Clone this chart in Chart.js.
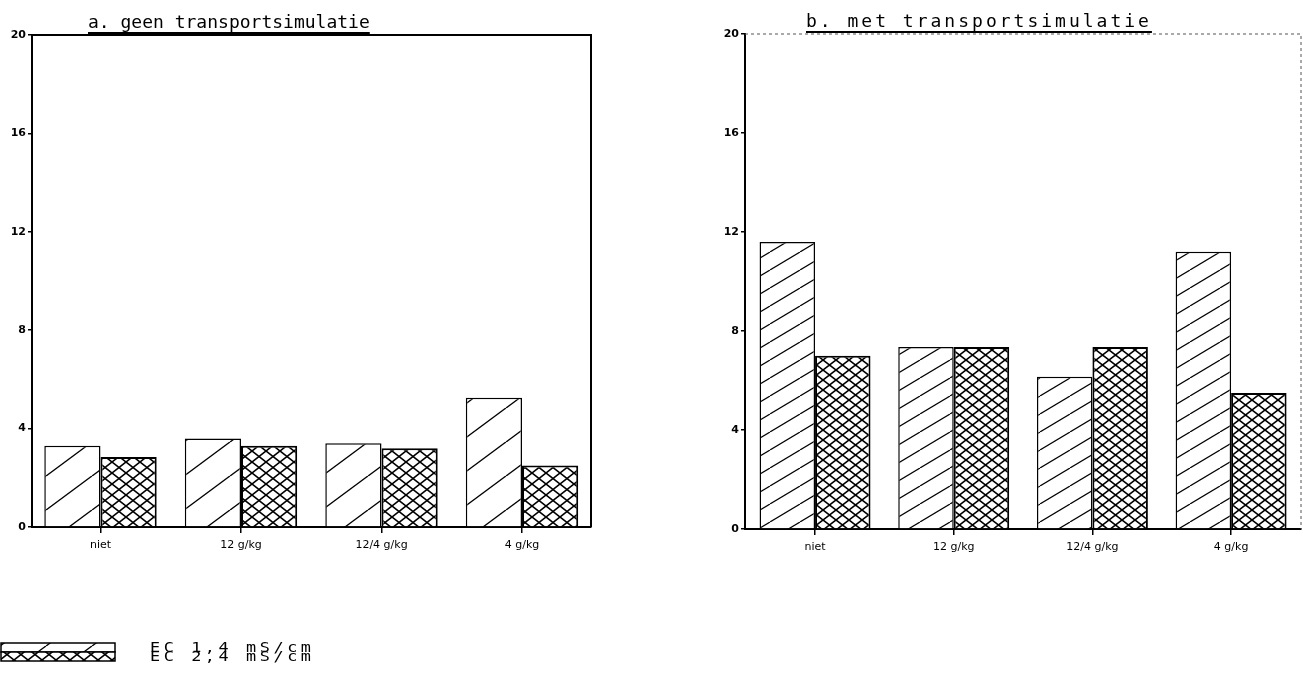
<!DOCTYPE html>
<html>
<head>
<meta charset="utf-8">
<script src="https://cdn.jsdelivr.net/npm/chart.js@4.4.1/dist/chart.umd.min.js"></script>
<style>
  html, body { margin: 0; padding: 0; background: #fff; }
  body { width: 1303px; height: 697px; position: relative; overflow: hidden; }
  .box { position: absolute; top: 0; height: 697px; }
  #boxA { left: 0; width: 650px; }
  #boxB { left: 680px; width: 623px; }
</style>
</head>
<body>
<div class="box" id="boxA"><canvas id="chartA"></canvas></div>
<div class="box" id="boxB"><canvas id="chartB"></canvas></div>
<script>
// categorieen en reeksen
const categories = ['niet', '12 g/kg', '12/4 g/kg', '4 g/kg'];
const seriesNames = ['EC 1,4 mS/cm', 'EC 2,4 mS/cm'];
const yTicks = [0, 4, 8, 12, 16, 20];
const titleA = 'a. geen transportsimulatie';
const titleB = 'b. met transportsimulatie';

// a. geen transportsimulatie
const ec14A = [3.3, 3.6, 3.4, 5.25];
const ec24A = [2.85, 3.3, 3.2, 2.5];
// b. met transportsimulatie
const ec14B = [11.6, 7.35, 6.15, 11.2];
const ec24B = [7.0, 7.35, 7.35, 5.5];

// arcering: schuine lijnen
function hatch(w, h, lw) {
  const c = document.createElement('canvas');
  c.width = w; c.height = h;
  const g = c.getContext('2d');
  g.fillStyle = '#fff';
  g.fillRect(0, 0, w, h);
  g.strokeStyle = '#000';
  g.lineWidth = lw;
  for (const k of [-1, 0, 1]) {
    g.beginPath();
    g.moveTo(k * w, h);
    g.lineTo(k * w + w, 0);
    g.stroke();
  }
  return g.createPattern(c, 'repeat');
}

// arcering: kruislings
function cross(w, h, lw) {
  const c = document.createElement('canvas');
  c.width = w; c.height = h;
  const g = c.getContext('2d');
  g.fillStyle = '#fff';
  g.fillRect(0, 0, w, h);
  g.strokeStyle = '#000';
  g.lineWidth = lw;
  for (const k of [-1, 0, 1]) {
    g.beginPath();
    g.moveTo(k * w, h); g.lineTo(k * w + w, 0);
    g.moveTo(k * w, 0); g.lineTo(k * w + w, h);
    g.stroke();
  }
  return g.createPattern(c, 'repeat');
}

// kader boven/rechts + onderstreepte titel
const framePlugin = {
  id: 'frame',
  afterDraw(chart, args, opts) {
    const { ctx, chartArea: a } = chart;
    ctx.save();
    ctx.strokeStyle = opts.color;
    ctx.lineWidth = opts.lineWidth;
    ctx.setLineDash(opts.dash);
    ctx.beginPath();
    ctx.moveTo(a.left, a.top);
    ctx.lineTo(a.right, a.top);
    ctx.lineTo(a.right, a.bottom);
    ctx.stroke();
    ctx.setLineDash([]);
    ctx.font = '18px "DejaVu Sans Mono"';
    ctx.letterSpacing = opts.spacing + 'px';
    ctx.fillStyle = '#000';
    ctx.textBaseline = 'alphabetic';
    ctx.fillText(opts.text, opts.x, a.top - 7);
    const w = ctx.measureText(opts.text).width;
    ctx.strokeStyle = '#000';
    ctx.lineWidth = 2;
    ctx.beginPath();
    ctx.moveTo(opts.x, a.top - 2);
    ctx.lineTo(opts.x + w, a.top - 2);
    ctx.stroke();
    ctx.restore();
  }
};

// legenda onder de linker grafiek
const legendPlugin = {
  id: 'ecLegend',
  afterDraw(chart, args, opts) {
    if (!opts.show) return;
    const ctx = chart.ctx;
    chart.data.datasets.forEach((ds, i) => {
      const y = 643 + i * 9;
      ctx.save();
      ctx.fillStyle = ds.backgroundColor;
      ctx.fillRect(1, y, 114, 9);
      ctx.strokeStyle = '#000';
      ctx.lineWidth = 1.5;
      ctx.strokeRect(1, y, 114, 9);
      ctx.fillStyle = '#000';
      ctx.font = '14px "DejaVu Sans Mono"';
      ctx.letterSpacing = '3px';
      ctx.textBaseline = 'alphabetic';
      ctx.translate(150, y + 9);
      ctx.scale(1.2, 1);
      ctx.fillText(ds.label, 0, 0);
      ctx.restore();
    });
  }
};

const tickFont = { family: 'DejaVu Sans', size: 11 };

function makeChart(id, v1, v2, cfg) {
  return new Chart(document.getElementById(id), {
    type: 'bar',
    data: {
      datasets: [{
        label: seriesNames[0],
        data: v1.map((y, i) => ({ x: i, y })),
        backgroundColor: cfg.hatch,
        borderColor: '#000',
        borderWidth: 1.5,
        barPercentage: 1,
        categoryPercentage: 0.8
      }, {
        label: seriesNames[1],
        data: v2.map((y, i) => ({ x: i, y })),
        backgroundColor: cfg.cross,
        borderColor: '#000',
        borderWidth: 2,
        barPercentage: 1,
        categoryPercentage: 0.8
      }]
    },
    options: {
      responsive: true,
      maintainAspectRatio: false,
      animation: false,
      layout: { padding: cfg.padding },
      plugins: {
        legend: { display: false },
        tooltip: { enabled: false },
        frame: cfg.frame,
        ecLegend: { show: cfg.legend }
      },
      scales: {
        x: {
          type: 'linear',
          min: cfg.xMin,
          max: cfg.xMax,
          offset: false,
          afterBuildTicks: s => { s.ticks = categories.map((c, i) => ({ value: i })); },
          afterFit: s => { s.height = 40; },
          ticks: {
            callback: v => categories[v],
            font: tickFont, color: '#000', padding: 6,
            maxRotation: 0, autoSkip: false
          },
          grid: { offset: false, drawOnChartArea: false, tickLength: 6, color: '#000', lineWidth: 1.5 },
          border: { color: '#000', width: 2 }
        },
        y: {
          min: 0,
          max: 20,
          afterBuildTicks: s => { s.ticks = yTicks.map(v => ({ value: v })); },
          afterFit: s => { s.width = cfg.yWidth; },
          ticks: { font: { family: 'DejaVu Sans', size: 11, weight: 'bold' }, color: '#000', padding: 2 },
          grid: { drawOnChartArea: false, tickLength: 4, color: '#000', lineWidth: 1.5 },
          border: { color: '#000', width: 2 }
        }
      }
    },
    plugins: [framePlugin, legendPlugin]
  });
}

makeChart('chartA', ec14A, ec24A, {
  hatch: hatch(46, 34, 1.4),
  cross: cross(14, 11, 1.6),
  padding: { left: 0, top: 35, right: 59, bottom: 130 },
  yWidth: 32,
  xMin: -0.4875, xMax: 3.491,
  legend: true,
  frame: { text: titleA, x: 88, spacing: 0, color: '#000', lineWidth: 2, dash: [] }
});

makeChart('chartB', ec14B, ec24B, {
  hatch: hatch(30, 18, 1.2),
  cross: cross(13, 10, 1.6),
  padding: { left: 0, top: 34, right: 2, bottom: 128 },
  yWidth: 65,
  xMin: -0.505, xMax: 3.504,
  legend: false,
  frame: { text: titleB, x: 126, spacing: 3, color: '#555', lineWidth: 1, dash: [3, 3] }
});
</script>
</body>
</html>
